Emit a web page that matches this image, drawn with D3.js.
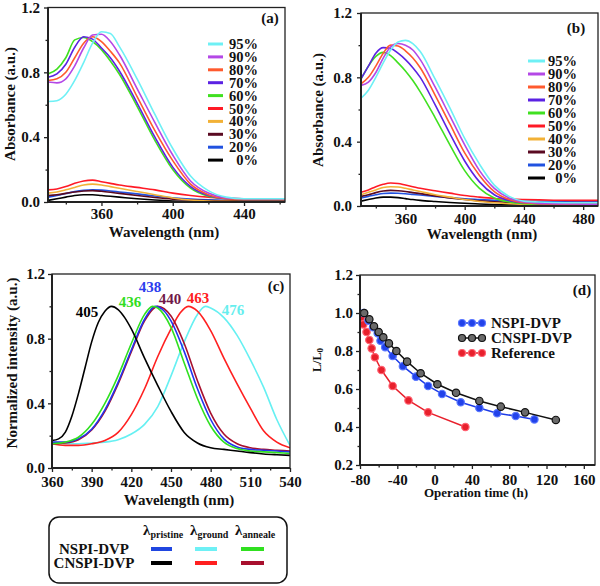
<!DOCTYPE html>
<html><head><meta charset="utf-8">
<script src="https://cdn.jsdelivr.net/npm/d3@7"></script>
<style>
body{margin:0;background:#fff}
svg{display:block}
text{font-family:"Liberation Serif","Times New Roman",serif;font-weight:bold;fill:#111}
</style></head><body>
<svg id="chart" width="600" height="586"></svg>
<script>
// ---------------- DATA ----------------
const pctLabels = ["95%","90%","80%","70%","60%","50%","40%","30%","20%","0%"];

// Panel (a)
const aWl  = [330,335,340,345,350,355,360,365,370,380,390,400,410,420,430,440,450,463];
const a95  = [0.62,0.625,0.665,0.75,0.86,0.98,1.05,1.04,0.96,0.76,0.54,0.33,0.16,0.07,0.03,0.02,0.02,0.02];
const a90  = [0.74,0.735,0.76,0.84,0.95,1.03,1.035,0.99,0.91,0.70,0.49,0.29,0.13,0.055,0.025,0.02,0.02,0.02];
const a80  = [0.75,0.76,0.80,0.89,0.98,1.02,0.99,0.93,0.86,0.65,0.44,0.255,0.11,0.045,0.02,0.015,0.015,0.015];
const a70  = [0.77,0.79,0.85,0.955,1.02,1.005,0.95,0.89,0.81,0.61,0.40,0.215,0.095,0.04,0.02,0.015,0.015,0.015];
const a60  = [0.79,0.82,0.89,1.0,1.015,0.99,0.94,0.87,0.79,0.59,0.38,0.20,0.085,0.035,0.02,0.015,0.015,0.015];
const a50  = [0.075,0.08,0.095,0.115,0.13,0.135,0.125,0.115,0.105,0.09,0.075,0.055,0.04,0.03,0.025,0.02,0.02,0.02];
const a40  = [0.055,0.062,0.075,0.09,0.105,0.11,0.105,0.095,0.085,0.065,0.045,0.025,0.012,0.006,0.004,0.003,0.003,0.003];
const a30  = [0.04,0.045,0.053,0.062,0.068,0.07,0.066,0.06,0.053,0.04,0.028,0.018,0.012,0.009,0.008,0.007,0.007,0.007];
const a20  = [0.03,0.04,0.052,0.064,0.072,0.075,0.073,0.068,0.062,0.05,0.037,0.026,0.018,0.013,0.011,0.01,0.01,0.01];
const a0   = [0.01,0.02,0.03,0.04,0.045,0.045,0.04,0.035,0.03,0.02,0.012,0.006,0.003,0.002,0.001,0,0,0];

// Panel (b)
const bWl  = [330,335,340,345,350,355,360,365,370,380,390,400,410,420,430,440,450,460,475,490];
const b95  = [0.67,0.72,0.80,0.89,0.97,1.02,1.03,1.01,0.96,0.79,0.61,0.42,0.26,0.13,0.06,0.03,0.025,0.022,0.02,0.02];
const b90  = [0.75,0.77,0.83,0.92,0.99,1.01,1.0,0.97,0.91,0.74,0.56,0.38,0.22,0.11,0.05,0.025,0.018,0.015,0.012,0.01];
const b80  = [0.76,0.80,0.87,0.95,1.0,0.995,0.965,0.92,0.86,0.69,0.51,0.33,0.19,0.09,0.04,0.02,0.015,0.012,0.01,0.01];
const b70  = [0.79,0.87,0.95,0.985,0.98,0.95,0.91,0.86,0.80,0.63,0.45,0.28,0.15,0.07,0.035,0.02,0.015,0.012,0.01,0.01];
const b60  = [0.79,0.87,0.93,0.955,0.935,0.89,0.84,0.78,0.71,0.55,0.38,0.22,0.11,0.05,0.025,0.015,0.012,0.01,0.01,0.01];
const b50  = [0.085,0.10,0.12,0.135,0.143,0.14,0.13,0.12,0.11,0.095,0.08,0.065,0.055,0.047,0.043,0.04,0.038,0.036,0.035,0.035];
const b40  = [0.07,0.085,0.10,0.115,0.12,0.118,0.11,0.10,0.09,0.07,0.055,0.04,0.028,0.02,0.014,0.01,0.008,0.006,0.005,0.005];
const b30  = [0.06,0.07,0.083,0.093,0.097,0.095,0.09,0.083,0.077,0.063,0.05,0.04,0.032,0.026,0.022,0.02,0.02,0.02,0.02,0.02];
const b20  = [0.05,0.06,0.07,0.078,0.08,0.079,0.076,0.072,0.068,0.06,0.052,0.045,0.04,0.035,0.032,0.03,0.03,0.03,0.03,0.03];
const b0   = [0.03,0.04,0.05,0.055,0.055,0.052,0.046,0.04,0.035,0.028,0.022,0.017,0.012,0.009,0.007,0.006,0.005,0.005,0.005,0.005];

// Panel (c)
const cBlackWl = [360,365,370,375,380,385,390,395,400,405,410,415,420,430,440,450,460,470,480,490,500,510,520,530,540];
const cBlackI  = [0.17,0.18,0.22,0.32,0.46,0.62,0.78,0.90,0.97,1.0,0.98,0.93,0.86,0.68,0.51,0.35,0.22,0.155,0.125,0.115,0.105,0.095,0.087,0.082,0.078];
const cGreenWl = [360,370,380,390,400,410,420,430,436,440,450,460,470,480,490,500,510,520,530,540];
const cGreenI  = [0.15,0.16,0.19,0.27,0.40,0.57,0.77,0.95,1.0,0.99,0.87,0.65,0.43,0.26,0.16,0.12,0.105,0.10,0.095,0.09];
const cBlueWl  = [360,370,380,390,400,410,420,430,438,445,450,460,470,480,490,500,510,520,530,540];
const cBlueI   = [0.16,0.16,0.18,0.24,0.36,0.53,0.73,0.92,1.0,0.97,0.91,0.72,0.49,0.30,0.18,0.13,0.115,0.11,0.105,0.10];
const cMaroonWl= [360,370,380,390,400,410,420,430,440,450,460,470,480,490,500,510,520,530,540];
const cMaroonI = [0.15,0.155,0.175,0.235,0.35,0.52,0.72,0.91,1.0,0.94,0.77,0.54,0.34,0.21,0.15,0.125,0.115,0.11,0.105];
const cRedWl   = [360,370,380,390,400,410,420,430,440,450,457,463,470,480,490,500,510,520,530,540];
const cRedI    = [0.15,0.14,0.14,0.15,0.17,0.22,0.33,0.49,0.69,0.86,0.96,1.0,0.97,0.85,0.68,0.52,0.37,0.23,0.16,0.125];
const cCyanWl  = [360,370,380,390,400,410,420,430,440,450,460,470,476,480,490,500,510,520,530,540];
const cCyanI   = [0.15,0.15,0.15,0.155,0.16,0.175,0.21,0.27,0.38,0.57,0.78,0.95,1.0,0.99,0.93,0.82,0.67,0.50,0.30,0.14];
const cPeakLabels = ["405","436","438","440","463","476"];

// Panel (d)
const dNames  = ["NSPI-DVP","CNSPI-DVP","Reference"];
const dNspiT  = [-76,-71,-66,-61,-58,-53,-45,-34,-20,-7,8,28,48,67,87,107];
const dNspiV  = [1.0,0.96,0.925,0.893,0.854,0.82,0.774,0.72,0.665,0.616,0.574,0.53,0.50,0.472,0.458,0.44];
const dCnspiT = [-75.5,-70,-65,-60,-55,-49,-41,-29.5,-15,3,23,48,71,97,130];
const dCnspiV = [1.0,0.967,0.93,0.90,0.872,0.84,0.80,0.744,0.683,0.625,0.58,0.537,0.507,0.477,0.437];
const dRefT   = [-79,-76.5,-73,-70,-67.5,-64,-57,-45,-28,-7,33];
const dRefV   = [0.975,0.94,0.90,0.858,0.814,0.767,0.70,0.616,0.54,0.477,0.40];

// Bottom legend
const legRows = ["NSPI-DVP","CNSPI-DVP"];
const legCols = ["pristine","ground","anneale"];

// ---------------- STYLE ----------------
const pctColors = ["#6ef0f5","#b448e6","#ff5a2e","#5b22e3","#40e020","#ff1a26","#f2b136","#5a0a22","#2152e0","#000000"];
const cColors = {black:"#000000",green:"#30e020",blue:"#2234ee",maroon:"#a8102e",red:"#ff2020",cyan:"#66f0f2"};
const dColors = [{fill:"#2242ea",stroke:"#5a78ff",line:"#1e3ce6"},{fill:"#6a6a6a",stroke:"#111",line:"#111"},{fill:"#e8202c",stroke:"#ff6070",line:"#e8202c"}];

const svg = d3.select("#chart");
const fmt1 = d3.format(".1f");
let clipId = 0;

function panel(o){
  const x = d3.scaleLinear().domain(o.xd).range(o.xr);
  const y = d3.scaleLinear().domain(o.yd).range(o.yr);
  const g = svg.append("g");
  const id = "clip" + (clipId++);
  g.append("clipPath").attr("id",id).append("rect")
    .attr("x",o.xr[0]).attr("y",o.yr[1]).attr("width",o.xr[1]-o.xr[0]).attr("height",o.yr[0]-o.yr[1]);
  const plot = g.append("g").attr("clip-path",`url(#${id})`);
  const style = s => { s.select(".domain").remove(); s.selectAll("line").attr("stroke","#222").attr("stroke-width",1.3); s.selectAll("text").attr("font-size",15).attr("fill","#111").attr("font-family","Liberation Serif").attr("font-weight","bold"); };
  g.append("g").attr("transform",`translate(0,${o.yr[0]})`)
    .call(d3.axisBottom(x).tickValues(o.xMinor).tickSize(2.5).tickFormat("")).call(style);
  g.append("g").attr("transform",`translate(${o.xr[0]},0)`)
    .call(d3.axisLeft(y).tickValues(o.yMinor).tickSize(2.5).tickFormat("")).call(style);
  g.append("g").attr("transform",`translate(0,${o.yr[0]})`)
    .call(d3.axisBottom(x).tickValues(o.xTicks).tickSize(4).tickPadding(o.xPad).tickFormat(o.xFmt||(t=>String(t)))).call(style);
  g.append("g").attr("transform",`translate(${o.xr[0]},0)`)
    .call(d3.axisLeft(y).tickValues(o.yTicks).tickSize(4).tickPadding(o.yPad).tickFormat(fmt1)).call(style);
  // frame
  g.append("rect").attr("x",o.xr[0]).attr("y",o.yr[1]).attr("width",o.xr[1]-o.xr[0]).attr("height",o.yr[0]-o.yr[1])
    .attr("fill","none").attr("stroke","#222").attr("stroke-width",1.3);
  g.append("line").attr("x1",o.xr[0]).attr("x2",o.xr[0]).attr("y1",o.yr[1]).attr("y2",o.yr[0]+0.7).attr("stroke","#222").attr("stroke-width",2);
  g.append("line").attr("x1",o.xr[0]).attr("x2",o.xr[1]).attr("y1",o.yr[0]).attr("y2",o.yr[0]).attr("stroke","#222").attr("stroke-width",2);
  // titles
  g.append("text").attr("x",o.xtPos[0]).attr("y",o.xtPos[1]).attr("text-anchor","middle").attr("font-size",o.xtSize||15).text(o.xTitle);
  const yt = g.append("text").attr("transform",`translate(${o.ytPos[0]},${o.ytPos[1]}) rotate(-90)`)
    .attr("text-anchor","middle").attr("dominant-baseline","central").attr("font-size",o.ytSize||15);
  if (o.yTitleSub){ yt.append("tspan").text(o.yTitle); yt.append("tspan").attr("font-size",9).attr("dy",3).text(o.yTitleSub); }
  else yt.text(o.yTitle);
  g.append("text").attr("x",o.tagPos[0]).attr("y",o.tagPos[1]).attr("text-anchor","middle").attr("font-size",15).text(o.tag);
  return {x,y,g,plot};
}

function spectra(p, wl, series, colors){
  const line = d3.line().x((d,i)=>p.x(wl[i])).y(d=>p.y(d)).curve(d3.curveMonotoneX);
  series.forEach((s,i)=>{
    p.plot.append("path").datum(s).attr("d",line).attr("fill","none").attr("stroke",colors[i]).attr("stroke-width",1.6);
  });
}

function pctLegend(p, x1, x2, xText, y0, dy){
  pctLabels.forEach((lab,i)=>{
    const yy = y0 + i*dy;
    p.g.append("line").attr("x1",x1).attr("x2",x2).attr("y1",yy).attr("y2",yy).attr("stroke",pctColors[i]).attr("stroke-width",3);
    p.g.append("text").attr("x",xText).attr("y",yy+5).attr("text-anchor","end").attr("font-size",14.5).text(lab);
  });
}

// ---------- Panel (a) ----------
const pA = panel({xd:[330,463],xr:[48,285],yd:[0,1.2],yr:[202,7.5],
  xTicks:[360,400,440],xMinor:[340,380,420,460],yTicks:[0,0.4,0.8,1.2],yMinor:[0.2,0.6,1.0],
  xPad:2,yPad:4,xTitle:"Wavelength (nm)",xtPos:[164,237],yTitle:"Absorbance (a.u.)",ytPos:[10,104],
  tag:"(a)",tagPos:[270,23]});
spectra(pA, aWl, [a0,a20,a30,a40,a50,a60,a70,a80,a90,a95], pctColors.slice().reverse());
pctLegend(pA, 208, 223, 258, 44, 12.9);

// ---------- Panel (b) ----------
const pB = panel({xd:[330,490],xr:[361,598],yd:[0,1.2],yr:[206,13],
  xTicks:[360,400,440,480],xMinor:[340,380,420,460],yTicks:[0,0.4,0.8,1.2],yMinor:[0.2,0.6,1.0],
  xPad:3,yPad:5,xTitle:"Wavelength (nm)",xtPos:[482,239],yTitle:"Absorbance (a.u.)",ytPos:[318,110],
  tag:"(b)",tagPos:[576,33]});
spectra(pB, bWl, [b0,b20,b30,b40,b50,b60,b70,b80,b90,b95], pctColors.slice().reverse());
pctLegend(pB, 528, 545, 577, 61, 13);

// ---------- Panel (c) ----------
const pC = panel({xd:[360,540],xr:[52,290],yd:[0,1.2],yr:[468,274],
  xTicks:[360,390,420,450,480,510,540],xMinor:[375,405,435,465,495,525],yTicks:[0,0.4,0.8,1.2],yMinor:[0.2,0.6,1.0],
  xPad:4,yPad:3,xTitle:"Wavelength (nm)",xtPos:[179,505],yTitle:"Normalized intensity (a.u.)",ytPos:[12,363],
  tag:"(c)",tagPos:[276,291]});
[[cCyanWl,cCyanI,cColors.cyan],[cRedWl,cRedI,cColors.red],[cMaroonWl,cMaroonI,cColors.maroon],
 [cBlueWl,cBlueI,cColors.blue],[cGreenWl,cGreenI,cColors.green],[cBlackWl,cBlackI,cColors.black]].forEach(([wl,v,c])=>{
  spectra(pC, wl, [v], [c]);
});
const cLabPos = [[87,317,"#000"],[130,307,"#30dd20"],[150,292,"#2a3cee"],[170,304,"#701848"],[198,303,"#ff2020"],[233,315,"#66eeee"]];
cPeakLabels.forEach((t,i)=>{
  pC.g.append("text").attr("x",cLabPos[i][0]).attr("y",cLabPos[i][1]).attr("text-anchor","middle")
    .attr("font-size",15).style("fill",cLabPos[i][2]).text(t);
});

// ---------- Panel (d) ----------
const pD = panel({xd:[-80,172],xr:[360,595],yd:[0.2,1.2],yr:[465,275],
  xTicks:[-80,-40,0,40,80,120,160],xMinor:[-60,-20,20,60,100,140],yTicks:[0.2,0.4,0.6,0.8,1.0,1.2],yMinor:[0.3,0.5,0.7,0.9,1.1],
  xPad:5,yPad:3,xTitle:"Operation time (h)",xtPos:[476,497],xtSize:13,yTitle:"L/L",yTitleSub:"0",ytPos:[317,360],ytSize:12,
  tag:"(d)",tagPos:[582,295]});
const dSets = [[dNspiT,dNspiV],[dCnspiT,dCnspiV],[dRefT,dRefV]];
const dLine = d3.line().x(d=>pD.x(d[0])).y(d=>pD.y(d[1]));
[2,0,1].forEach(k=>{
  const pts = dSets[k][0].map((t,i)=>[t,dSets[k][1][i]]);
  pD.plot.append("path").datum(pts).attr("d",dLine).attr("fill","none").attr("stroke",dColors[k].line).attr("stroke-width",1.5);
  pD.plot.selectAll(null).data(pts).enter().append("circle")
    .attr("cx",d=>pD.x(d[0])).attr("cy",d=>pD.y(d[1])).attr("r",3.7)
    .attr("fill",dColors[k].fill).attr("stroke",dColors[k].stroke).attr("stroke-width",1.2);
});
dNames.forEach((n,k)=>{
  const yy = 323 + k*15;
  pD.g.append("line").attr("x1",458).attr("x2",486).attr("y1",yy).attr("y2",yy).attr("stroke",dColors[k].line).attr("stroke-width",1.5);
  [462,472,482].forEach(cx=>pD.g.append("circle").attr("cx",cx).attr("cy",yy).attr("r",3.5)
    .attr("fill",dColors[k].fill).attr("stroke",dColors[k].stroke).attr("stroke-width",1.2));
  pD.g.append("text").attr("x",491).attr("y",yy+5).attr("font-size",15).text(n);
});

// ---------- Bottom legend ----------
const lg = svg.append("g");
lg.append("rect").attr("x",49).attr("y",517).attr("width",238).attr("height",66).attr("rx",10)
  .attr("fill","none").attr("stroke","#111").attr("stroke-width",1.5);
const colX = [143,190,235];
const swX = [[151,172],[195,217],[241,264]];
const swC = [["#2046e0","#6ef0f5","#30e020"],["#000000","#ff2020","#a8102e"]];
legCols.forEach((c,j)=>{
  const t = lg.append("text").attr("x",colX[j]).attr("y",535).attr("font-size",15);
  t.append("tspan").text("λ");
  t.append("tspan").attr("font-size",10).attr("dy",3).text(c);
});
legRows.forEach((r,i)=>{
  const yy = 549 + i*14;
  lg.append("text").attr("x",94).attr("y",yy+5).attr("text-anchor","middle").attr("font-size",15).text(r);
  swX.forEach((sx,j)=>lg.append("line").attr("x1",sx[0]).attr("x2",sx[1]).attr("y1",yy).attr("y2",yy)
    .attr("stroke",swC[i][j]).attr("stroke-width",4));
});
</script></body></html>
